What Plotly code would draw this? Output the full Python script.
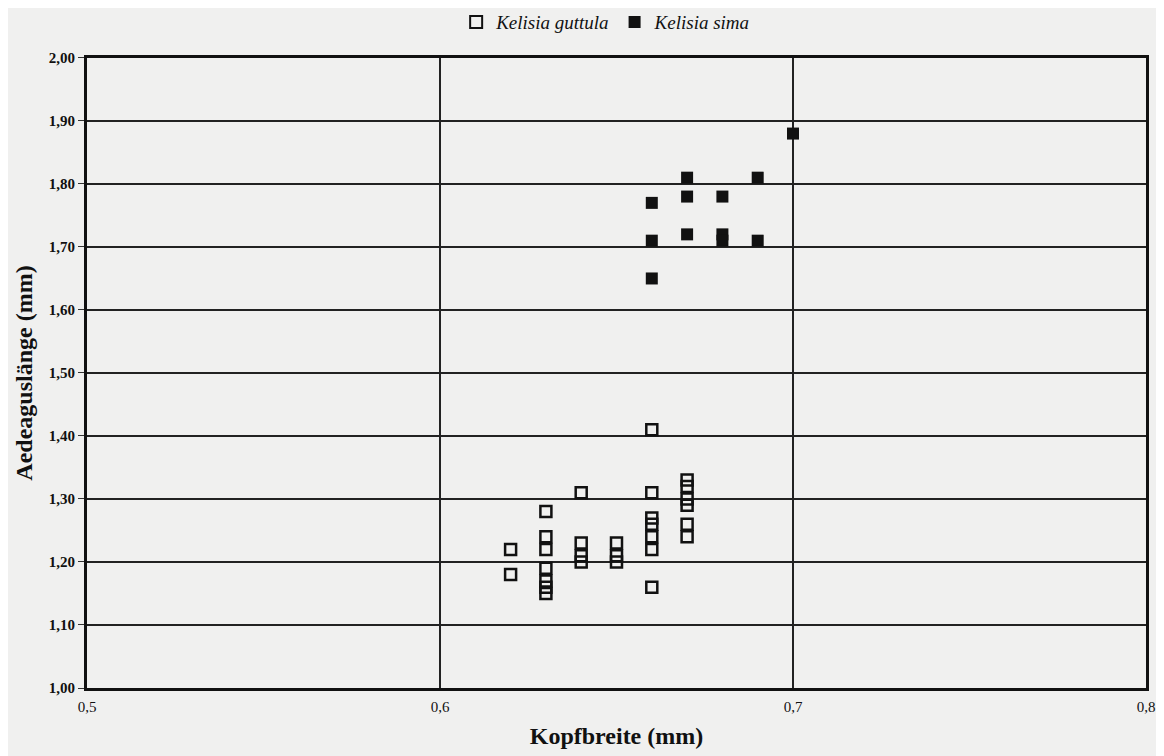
import plotly.graph_objects as go

# Kelisia guttula (open squares)
guttula_x = [0.62, 0.62,
             0.63, 0.63, 0.63, 0.63, 0.63, 0.63, 0.63,
             0.64, 0.64, 0.64, 0.64,
             0.65, 0.65, 0.65,
             0.66, 0.66, 0.66, 0.66, 0.66, 0.66, 0.66,
             0.67, 0.67, 0.67, 0.67, 0.67, 0.67]
guttula_y = [1.22, 1.18,
             1.28, 1.24, 1.22, 1.19, 1.17, 1.16, 1.15,
             1.31, 1.23, 1.21, 1.20,
             1.23, 1.21, 1.20,
             1.41, 1.31, 1.27, 1.26, 1.24, 1.22, 1.16,
             1.33, 1.32, 1.30, 1.29, 1.26, 1.24]

# Kelisia sima (filled squares)
sima_x = [0.66, 0.66, 0.66,
          0.67, 0.67, 0.67,
          0.68, 0.68, 0.68,
          0.69, 0.69,
          0.70]
sima_y = [1.77, 1.71, 1.65,
          1.81, 1.78, 1.72,
          1.78, 1.72, 1.71,
          1.81, 1.71,
          1.88]

x_ticks = [0.5, 0.6, 0.7, 0.8]
y_ticks = [1.0, 1.1, 1.2, 1.3, 1.4, 1.5, 1.6, 1.7, 1.8, 1.9, 2.0]

serif = "Liberation Serif, Times New Roman, serif"
bg = "#f0f0ef"
ink = "#111111"

fig = go.Figure()
fig.add_trace(go.Scatter(
    x=guttula_x, y=guttula_y, mode="markers", name="<i>Kelisia guttula</i>",
    marker=dict(symbol="square-open", size=11, color=ink,
                line=dict(width=2.5, color=ink)),
))
fig.add_trace(go.Scatter(
    x=sima_x, y=sima_y, mode="markers", name="<i>Kelisia sima</i>",
    marker=dict(symbol="square", size=12, color=ink,
                line=dict(width=0)),
))

fig.update_layout(
    width=1156, height=748,
    margin=dict(l=79, r=9, t=47, b=68),
    paper_bgcolor=bg, plot_bgcolor=bg,
    separators=",.",
    font=dict(family=serif, color=ink),
    showlegend=True,
    legend=dict(orientation="h", x=0.517, y=0.981, xref="container", yref="container",
                xanchor="center", yanchor="middle",
                font=dict(family=serif, size=19, color=ink),
                bgcolor="rgba(0,0,0,0)", itemsizing="constant",
                itemwidth=30, tracegroupgap=0),
    xaxis=dict(
        range=[0.5, 0.8], tickvals=x_ticks, tickformat=".1f",
        showgrid=True, gridcolor="#222222", gridwidth=1.5,
        showline=True, linecolor=ink, linewidth=3, mirror=True,
        zeroline=False, ticks="", ticklabelstandoff=3,
        tickfont=dict(family=serif, size=15, color=ink),
        title=dict(text="<b>Kopfbreite (mm)</b>", standoff=14,
                   font=dict(family=serif, size=24, color=ink)),
    ),
    yaxis=dict(
        range=[1.0, 2.0], tickvals=y_ticks, tickformat=".2f",
        showgrid=True, gridcolor="#222222", gridwidth=1.5,
        showline=True, linecolor=ink, linewidth=3, mirror=True,
        zeroline=False, ticks="outside", ticklen=6, tickwidth=1, tickcolor="#333333",
        tickfont=dict(family=serif, size=15, color=ink, weight="bold"),
        title=dict(text="<b>Aedeaguslänge (mm)</b>", standoff=10,
                   font=dict(family=serif, size=24, color=ink)),
    ),
)

fig.write_html("out.html")
